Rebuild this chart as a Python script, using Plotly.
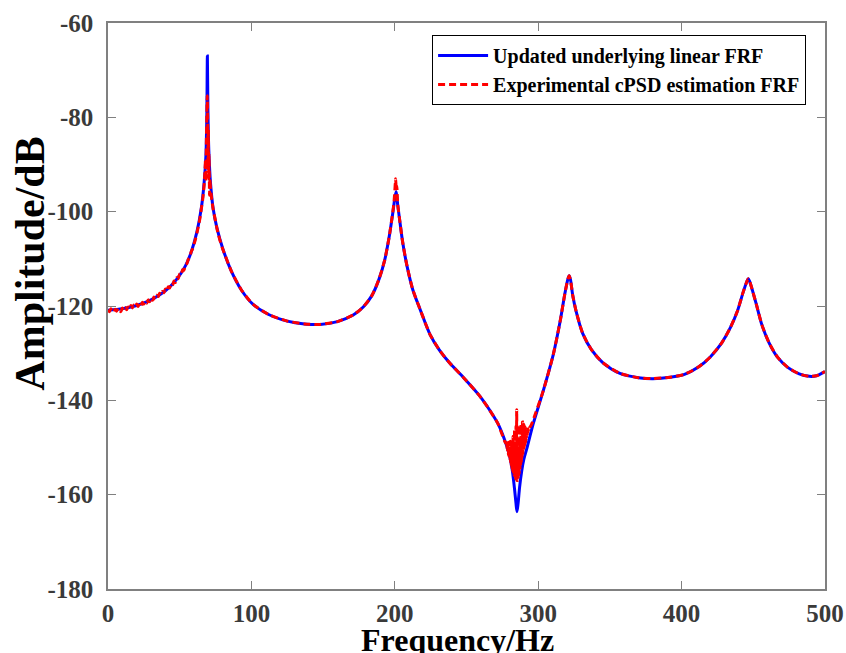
import plotly.graph_objects as go

# ---------------- data ----------------
freq_linear = [0, 10, 20, 30, 40, 48, 54, 58, 62, 65, 67, 68.3, 68.9, 69.3, 69.7, 70.3,
               71.5, 73.4, 76, 80, 86, 93, 101, 112, 125, 137, 148, 160, 171, 178, 184,
               189, 193, 196, 198.5, 200.2, 201, 202, 203.5, 205.5, 208.5, 212.5, 218,
               224.5, 231, 238, 248, 259, 266, 272, 276.5, 280, 282, 283.5, 284.5, 285.2,
               286, 287, 288.5, 290, 292, 296.5, 303.5, 310.5, 315.2, 318.7, 320.7, 321.6,
               322.5, 324, 326.5, 331, 337, 345, 357, 370, 380, 392, 402, 412, 420, 428,
               434, 439, 443, 445.5, 446.5, 447.5, 449.5, 452, 456, 461, 467, 474, 482,
               489, 494, 500]
amp_linear = [-120.9, -120.6, -119.9, -118.7, -116.8, -114.3, -111.5, -108.6, -104.3, -99.4,
              -94.0, -88.0, -80.0, -67.0, -79.0, -87.0, -94.0, -99.5, -103.5, -107.8,
              -112.6, -116.6, -119.6, -121.8, -123.2, -123.8, -123.9, -123.3, -121.9,
              -120.2, -117.8, -114.3, -110.2, -105.5, -100.5, -96.8, -95.8, -98.5, -102.0,
              -106.5, -111.5, -116.5, -121.0, -126.0, -129.3, -132.0, -135.2, -139.0,
              -142.0, -145.0, -148.3, -151.7, -155.0, -158.8, -161.8, -163.6, -161.8,
              -158.5, -155.0, -152.5, -150.3, -145.0, -138.0, -130.3, -123.4, -117.2,
              -114.3, -113.6, -114.4, -117.6, -121.2, -125.8, -129.2, -132.0, -134.3,
              -135.2, -135.4, -135.1, -134.5, -132.9, -130.8, -127.8, -124.6, -121.0,
              -117.0, -114.8, -114.2, -114.8, -116.8, -119.5, -124.0, -127.8, -130.9,
              -133.0, -134.4, -134.9, -134.8, -133.9]

freq_exp = [0, 1, 2, 3, 4, 5, 6, 7, 8, 9, 10, 11, 12, 13, 14, 15, 16, 17, 18, 19, 20,
            21, 22, 23, 24, 25, 26, 27, 28, 29, 30, 31, 32, 33, 34, 35, 36, 37, 38, 39,
            40, 41, 42, 43, 44, 45, 46, 47, 48, 49, 50, 51, 52, 53, 54, 55, 56, 57, 58,
            59, 60, 61, 62, 63, 64, 65, 66,
            67, 67.5, 68.0, 68.3, 68.6, 68.9, 69.2, 69.4, 69.6, 69.8, 70.0, 70.2, 70.5,
            70.8, 71.1, 71.5, 72.0, 72.5, 73.4, 75, 76, 77, 78, 80,
            86, 93, 101, 112, 125, 137, 148, 160, 171, 178, 184, 189, 193, 196,
            198.5, 199.5, 200.2, 200.6, 201.0, 201.4, 202, 203.5, 205.5, 208.5, 212.5,
            218, 224.5, 231, 238, 248, 259, 266, 272, 276, 277,
            278.00, 278.25, 278.50, 278.75, 279.00, 279.25, 279.50, 279.75, 280.00, 280.25,
            280.50, 280.75, 281.00, 281.25, 281.50, 281.75, 282.00, 282.25, 282.50, 282.75,
            283.00, 283.25, 283.50, 283.75, 284.00, 284.25, 284.50, 284.75, 285.00, 285.25,
            285.50, 285.75, 286.00, 286.25, 286.50, 286.75, 287.00, 287.25, 287.50, 287.75,
            288.00, 288.25, 288.50, 288.75, 289.00, 289.25, 289.50, 289.75, 290.00, 290.25,
            290.50, 290.75, 291.00, 291.25, 291.50, 291.75, 292.00, 292.50, 293.00, 293.50,
            294.00, 295.00, 296.00,
            303.5, 310.5, 315.2, 318.7, 320.7, 321.6, 322.5, 324, 326.5, 331, 337, 345,
            357, 370, 380, 392, 402, 412, 420, 428, 434, 439, 443, 445.5, 446.5, 447.5,
            449.5, 452, 456, 461, 467, 474, 482, 489, 494, 500]
amp_exp = [-120.8, -121.2, -120.6, -121.0, -121.3, -120.7, -121.1, -120.5, -120.9, -121.2,
           -120.4, -120.9, -120.3, -120.8, -120.2, -120.6, -119.9, -120.4, -119.8, -120.2,
           -119.6, -120.1, -119.4, -119.9, -119.2, -119.6, -119.0, -119.4, -118.7, -119.1,
           -118.4, -118.8, -118.1, -118.5, -117.7, -118.0, -117.3, -117.6, -116.9, -117.2,
           -116.4, -116.8, -115.9, -116.2, -115.3, -115.6, -114.7, -115.0, -114.0, -114.2,
           -113.2, -113.4, -112.3, -112.4, -111.2, -111.0, -110.1, -109.7, -108.5, -107.9,
           -106.9, -105.8, -104.5, -103.2, -101.6, -99.6, -97.5,
           -94.5, -92.0, -89.0, -93.5, -85.0, -80.0, -75.4, -78.0, -84.0, -90.5, -83.0,
           -93.0, -88.0, -96.5, -93.0, -95.2, -96.5, -97.8, -99.6, -102.0, -103.6, -104.9,
           -106.0, -107.9,
           -112.6, -116.6, -119.6, -121.8, -123.2, -123.8, -123.9, -123.3, -121.9, -120.2,
           -117.8, -114.3, -110.2, -105.5,
           -100.3, -97.8, -94.6, -93.0, -95.2, -94.6, -98.3, -102.0, -106.5, -111.5, -116.5,
           -121.0, -126.0, -129.3, -132.0, -135.2, -139.0, -142.0, -145.0, -148.2, -148.9,
           -149.2, -150.4, -148.6, -150.9, -149.5, -151.6, -148.9, -152.0, -150.1, -152.6,
           -148.7, -153.1, -150.8, -153.9, -148.2, -154.4, -151.5, -155.1, -147.6, -155.4,
           -150.2, -155.9, -146.3, -156.2, -151.0, -156.6, -145.4, -156.8, -142.0, -157.0,
           -148.8, -156.7, -145.2, -156.3, -150.5, -155.6, -146.4, -154.9, -149.8, -154.0,
           -145.1, -153.2, -148.6, -152.3, -144.6, -151.5, -147.9, -150.7, -145.0, -150.0,
           -147.2, -149.4, -145.6, -148.9, -146.8, -148.3, -146.0, -147.6, -146.1, -146.7,
           -145.8, -145.3, -144.6,
           -138.0, -130.3, -123.4, -117.2, -114.3, -113.6, -114.4, -117.6, -121.2, -125.8,
           -129.2, -132.0, -134.3, -135.2, -135.4, -135.1, -134.5, -132.9, -130.8, -127.8,
           -124.6, -121.0, -117.0, -114.8, -114.2, -114.8, -116.8, -119.5, -124.0, -127.8,
           -130.9, -133.0, -134.4, -134.9, -134.8, -133.9]

x_ticks = [0, 100, 200, 300, 400, 500]
x_tick_labels = ["0", "100", "200", "300", "400", "500"]
y_ticks = [-180, -160, -140, -120, -100, -80, -60]
y_tick_labels = ["-180", "-160", "-140", "-120", "-100", "-80", "-60"]

name_linear = "Updated underlying linear FRF"
name_exp = "Experimental cPSD estimation FRF"
x_title = "Frequency/Hz"
y_title = "Amplitude/dB"

# ---------------- figure ----------------
FONT = "Liberation Serif, Times New Roman, serif"
W, H = 846, 653
ML, MR, MT, MB = 108, 21, 23, 64

fig = go.Figure()
fig.add_trace(go.Scatter(
    x=freq_linear, y=amp_linear, mode="lines", name=name_linear,
    line=dict(color="#0000ff", width=3, shape="spline", smoothing=0.8),
))
fig.add_trace(go.Scatter(
    x=freq_exp, y=amp_exp, mode="lines", name=name_exp,
    line=dict(color="#ff0000", width=3, dash="7px,4px", shape="spline", smoothing=0.6),
))

axis_common = dict(
    showline=True, linecolor="#808080", linewidth=1.5, mirror="ticks",
    ticks="inside", ticklen=8, tickwidth=1.2, tickcolor="#808080",
    showgrid=False, zeroline=False, automargin=False,
    tickfont=dict(family=FONT, size=25, color="#3a3a3a", weight="bold"),
)

fig.update_layout(
    width=W, height=H,
    margin=dict(l=ML, r=MR, t=MT, b=MB, autoexpand=False),
    paper_bgcolor="white", plot_bgcolor="white",
    xaxis=dict(range=[0, 500], tickvals=x_ticks, ticktext=x_tick_labels,
               ticklabelstandoff=1, **axis_common),
    yaxis=dict(range=[-180, -60], tickvals=y_ticks, ticktext=y_tick_labels,
               ticklabelstandoff=8, **axis_common),
    legend=dict(
        x=0.452, y=0.979, xanchor="left", yanchor="top",
        bgcolor="white", bordercolor="#000000", borderwidth=1,
        font=dict(family=FONT, size=20, color="#000000", weight="bold"),
        itemwidth=50,
    ),
    showlegend=True,
    annotations=[
        dict(text=x_title, xref="paper", yref="paper", x=0.488, y=-0.0901,
             xanchor="center", yanchor="middle", showarrow=False,
             font=dict(family=FONT, size=32, color="#000000", weight="bold")),
        dict(text=y_title, xref="paper", yref="paper", x=-0.108, y=0.574,
             xanchor="center", yanchor="middle", showarrow=False, textangle=-90,
             font=dict(family=FONT, size=42, color="#000000", weight="bold")),
    ],
)

fig.write_html(
    "out.html",
    config={"displayModeBar": False},
    post_script="document.body.style.margin='0';document.body.style.overflow='hidden';",
)
